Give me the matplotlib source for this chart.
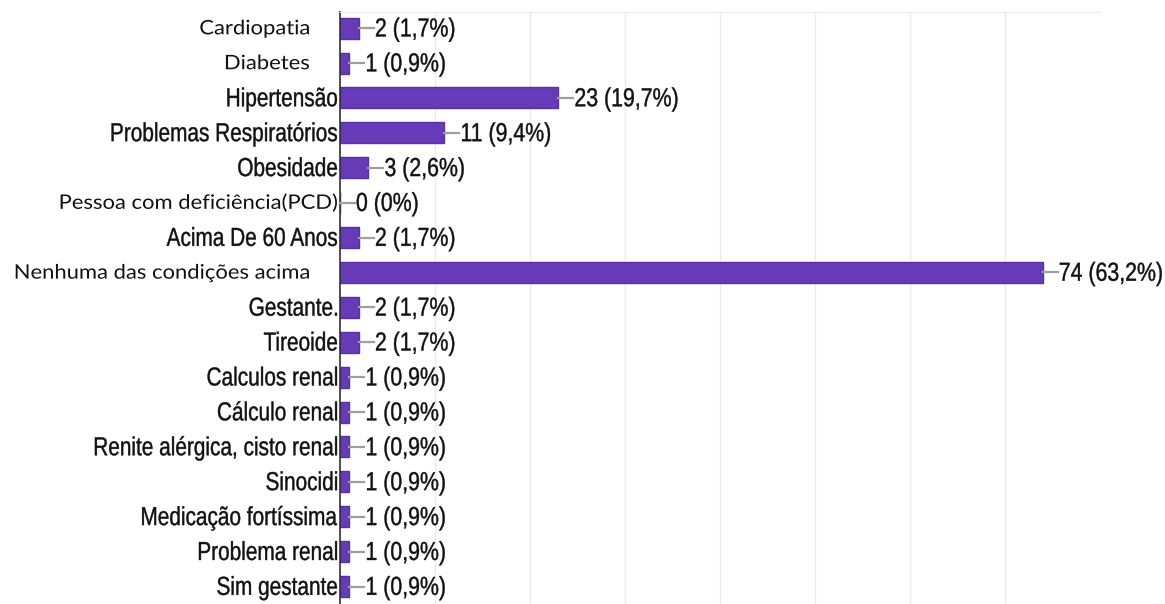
import matplotlib.pyplot as plt
from matplotlib.font_manager import FontProperties
from matplotlib.textpath import TextPath
from matplotlib.patches import PathPatch
from matplotlib.lines import Line2D
from matplotlib.transforms import Affine2D

# Data
categories = [
    'Cardiopatia', 'Diabetes', 'Hipertensão', 'Problemas Respiratórios',
    'Obesidade', 'Pessoa com deficiência(PCD)', 'Acima De 60 Anos',
    'Nenhuma das condições acima', 'Gestante.', 'Tireoide', 'Calculos renal',
    'Cálculo renal', 'Renite alérgica, cisto renal', 'Sinocidi',
    'Medicação fortíssima', 'Problema renal', 'Sim gestante',
]
counts = [2, 1, 23, 11, 3, 0, 2, 74, 2, 2, 1, 1, 1, 1, 1, 1, 1]
percents = ['1,7%', '0,9%', '19,7%', '9,4%', '2,6%', '0%', '1,7%', '63,2%',
            '1,7%', '1,7%', '0,9%', '0,9%', '0,9%', '0,9%', '0,9%', '0,9%', '0,9%']
# labels typed over the chart in a different font
overlay = ['Cardiopatia', 'Diabetes', 'Pessoa com deficiência(PCD)',
           'Nenhuma das condições acima']

bar_color = '#673ab7'
edge_color = '#5a2fa8'
text_color = '#111111'
line_color = '#9e9e9e'

fig = plt.figure(figsize=(11.65, 6.04), dpi=100)
ax = fig.add_axes([0.2918, 0.0, 0.944 - 0.2918, 0.980])

y = range(len(categories))
ax.barh(y, counts, height=0.6, color=bar_color, edgecolor=edge_color, linewidth=1)

ax.set_xlim(0, 80)
ax.set_ylim(len(categories) - 0.5, -0.46)
ax.set_xticks(range(0, 81, 10))
ax.xaxis.grid(True, color='#ebebeb', linewidth=1)
ax.set_axisbelow(True)
ax.tick_params(axis='x', length=0, labelbottom=False)
ax.tick_params(axis='y', length=0, labelleft=False)
for side in ['right', 'bottom']:
    ax.spines[side].set_visible(False)
ax.spines['top'].set_color('#ebebeb')
ax.spines['left'].set_color('#333333')
ax.spines['left'].set_linewidth(1.2)

narrow = FontProperties(family='Liberation Sans')
calibri_like = FontProperties(family='Lato')


def draw_text(s, x, yc, prop, size, xscale, cap, ha='left', stroke=0.0):
    # text as a path so it can be squeezed sideways (Arial Narrow look)
    path = TextPath((0, 0), s, size=size, prop=prop)
    ext = path.get_extents()
    width = ext.x1 * xscale
    x0 = x - width if ha == 'right' else x
    tr = Affine2D().scale(xscale, 1).translate(x0, yc - cap * size / 2)
    fig.add_artist(PathPatch(path, transform=tr, facecolor=text_color,
                             edgecolor=text_color if stroke else 'none', lw=stroke))


to_px = ax.transData.transform

# Category labels
for i, name in enumerate(categories):
    x0, yc = to_px((0, i))
    if name in overlay:
        right = x0 - 3 if name == 'Pessoa com deficiência(PCD)' else x0 - 31
        draw_text(name, right, yc + 1, calibri_like, 20, 1.1, 0.72, ha='right')
    else:
        draw_text(name, x0 - 3, yc + 1, narrow, 26, 0.80, 0.716, ha='right',
                  stroke=0.3)

# Value labels with a short connector line
for i, (c, p) in enumerate(zip(counts, percents)):
    xe, yc = to_px((c, i))
    fig.add_artist(Line2D([xe, xe + 15], [yc, yc], color=line_color, lw=1.6,
                          transform=Affine2D()))
    draw_text(f'{c} ({p})', xe + 16, yc + 1, narrow, 26, 0.82, 0.716, stroke=0.3)

plt.savefig('out.png', dpi=100)
